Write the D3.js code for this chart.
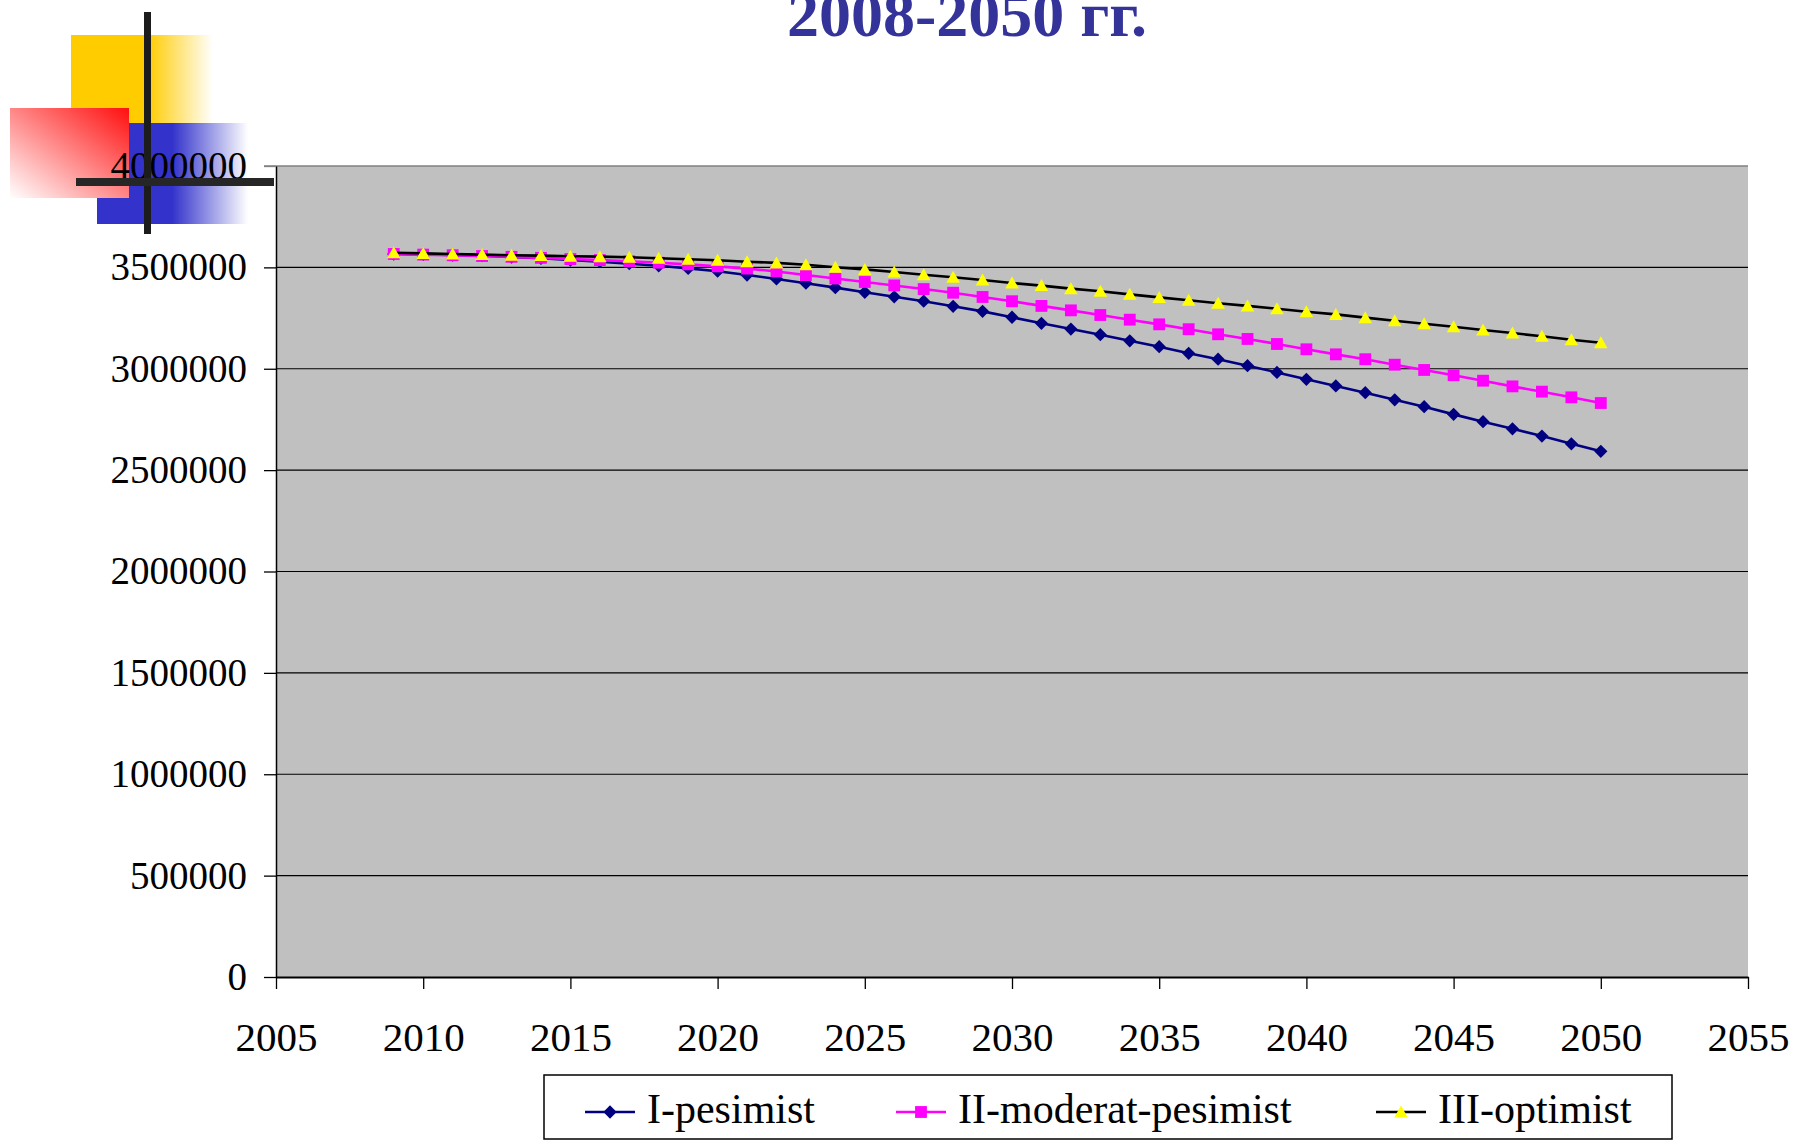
<!DOCTYPE html>
<html>
<head>
<meta charset="utf-8">
<script src="https://cdn.jsdelivr.net/npm/d3@7"></script>
<style>
  body { margin: 0; background: #ffffff; }
  text { font-family: "Liberation Serif", "Times New Roman", serif; }
</style>
</head>
<body>
<div id="chart"></div>
<script>
// values
const years = [2009, 2010, 2011, 2012, 2013, 2014, 2015, 2016, 2017, 2018, 2019, 2020, 2021, 2022,
    2023, 2024, 2025, 2026, 2027, 2028, 2029, 2030, 2031, 2032, 2033, 2034, 2035, 2036,
    2037, 2038, 2039, 2040, 2041, 2042, 2043, 2044, 2045, 2046, 2047, 2048, 2049, 2050];

const pesimist = [3566000, 3564000, 3561000, 3558000, 3551000, 3545000, 3536000, 3528000, 3518000, 3508000,
    3495000, 3481000, 3462000, 3443000, 3422000, 3400000, 3377000, 3355000, 3333000, 3308000,
    3283000, 3254000, 3224000, 3196000, 3168000, 3138000, 3109000, 3076000, 3047000, 3015000,
    2982000, 2948000, 2915000, 2882000, 2847000, 2813000, 2775000, 2739000, 2704000, 2668000,
    2630000, 2593000];

const moderat = [3566000, 3563000, 3560000, 3556000, 3552000, 3547000, 3541000, 3536000, 3530000, 3523000,
    3515000, 3505000, 3494000, 3480000, 3462000, 3445000, 3428000, 3411000, 3393000, 3375000,
    3354000, 3333000, 3310000, 3288000, 3265000, 3242000, 3219000, 3195000, 3170000, 3147000,
    3122000, 3096000, 3071000, 3047000, 3020000, 2994000, 2968000, 2941000, 2913000, 2887000,
    2859000, 2831000];

const optimist = [3572000, 3569000, 3566000, 3563000, 3560000, 3558000, 3555000, 3553000, 3550000, 3545000,
    3540000, 3535000, 3528000, 3522000, 3513000, 3501000, 3490000, 3477000, 3464000, 3451000,
    3438000, 3423000, 3410000, 3395000, 3382000, 3367000, 3352000, 3338000, 3323000, 3310000,
    3296000, 3281000, 3268000, 3252000, 3237000, 3222000, 3207000, 3191000, 3176000, 3160000,
    3143000, 3128000];

const seriesNames = ["I-pesimist", "II-moderat-pesimist", "III-optimist"];
const xTicks = [2005, 2010, 2015, 2020, 2025, 2030, 2035, 2040, 2045, 2050, 2055];
const yTicks = [0, 500000, 1000000, 1500000, 2000000, 2500000, 3000000, 3500000, 4000000];
const title = "2008-2050 гг.";

const width = 1798;
const height = 1144;
const margin = {top: 166, left: 276, right: 50, bottom: 167};

const svg = d3.select("#chart")
    .append("svg")
    .attr("width", width)
    .attr("height", height);

const defs = svg.append("defs");

function hGradient(id, color, start) {
    const g = defs.append("linearGradient").attr("id", id)
        .attr("x1", 0).attr("y1", 0).attr("x2", 1).attr("y2", 0);
    g.append("stop").attr("offset", 0).attr("stop-color", color);
    g.append("stop").attr("offset", start).attr("stop-color", color);
    g.append("stop").attr("offset", 1).attr("stop-color", color).attr("stop-opacity", 0);
}
hGradient("yellowFade", "#ffcc00", 0.54);
hGradient("blueFade", "#3333cc", 0.5);

const redGrad = defs.append("linearGradient").attr("id", "redFade")
    .attr("x1", 1).attr("y1", 0).attr("x2", 0).attr("y2", 1);
redGrad.append("stop").attr("offset", 0).attr("stop-color", "#ff0f0f");
redGrad.append("stop").attr("offset", 1).attr("stop-color", "#ffffff");

const xScale = d3.scaleLinear()
    .domain([2005, 2055])
    .range([margin.left, width - margin.right]);
const yScale = d3.scaleLinear()
    .domain([0, 4000000])
    .range([height - margin.bottom, margin.top]);

// decoration in the top left corner (under the axis labels)
const deco = svg.append("g");
deco.append("rect").attr("x", 71).attr("y", 35).attr("width", 142).attr("height", 89)
    .attr("fill", "url(#yellowFade)");
deco.append("rect").attr("x", 97).attr("y", 123).attr("width", 151).attr("height", 101)
    .attr("fill", "url(#blueFade)");
deco.append("rect").attr("x", 10).attr("y", 108).attr("width", 119).attr("height", 90)
    .attr("fill", "url(#redFade)");

// plot area
svg.append("rect")
    .attr("x", xScale(2005))
    .attr("y", yScale(4000000))
    .attr("width", xScale(2055) - xScale(2005))
    .attr("height", yScale(0) - yScale(4000000))
    .attr("fill", "#c0c0c0");

svg.append("g")
    .selectAll("line")
    .data(yTicks.filter(d => d > 0 && d < 4000000))
    .enter()
    .append("line")
        .attr("x1", xScale(2005))
        .attr("x2", xScale(2055))
        .attr("y1", d => yScale(d))
        .attr("y2", d => yScale(d))
        .attr("stroke", "#000000")
        .attr("stroke-width", 1.2);

svg.append("line")
    .attr("x1", xScale(2005) - 12).attr("x2", xScale(2055))
    .attr("y1", yScale(4000000)).attr("y2", yScale(4000000))
    .attr("stroke", "#808080").attr("stroke-width", 1.5);

const yAxis = svg.append("g")
    .attr("transform", `translate(${margin.left},0)`)
    .call(d3.axisLeft(yScale).tickValues(yTicks).tickSize(12).tickSizeOuter(0)
        .tickPadding(17).tickFormat(d3.format("d")));
yAxis.select(".domain").attr("stroke", "#000000").attr("stroke-width", 1.5);
yAxis.selectAll(".tick line").attr("stroke", d => d == 4000000 ? "#808080" : "#000000").attr("stroke-width", 1.3);
yAxis.selectAll(".tick text")
    .attr("font-family", "Liberation Serif, Times New Roman, serif")
    .attr("font-size", 39)
    .attr("fill", "#000000");

const xAxis = svg.append("g")
    .attr("transform", `translate(0,${height - margin.bottom})`)
    .call(d3.axisBottom(xScale).tickValues(xTicks).tickSize(12).tickSizeOuter(0)
        .tickPadding(33).tickFormat(d3.format("d")));
xAxis.select(".domain").attr("stroke", "#000000").attr("stroke-width", 2.2);
xAxis.selectAll(".tick line").attr("stroke", "#000000").attr("stroke-width", 1.3);
xAxis.selectAll(".tick text")
    .attr("font-family", "Liberation Serif, Times New Roman, serif")
    .attr("font-size", 41)
    .attr("fill", "#000000");

// the black cross drawn over the decoration and the top label
svg.append("rect").attr("x", 144).attr("y", 12).attr("width", 7).attr("height", 222)
    .attr("fill", "#1c1c1c");
svg.append("rect").attr("x", 76).attr("y", 178).attr("width", 198).attr("height", 8)
    .attr("fill", "#262626");

// series
const diamond = d3.symbol().type(d3.symbolSquare).size(88);
const square = d3.symbol().type(d3.symbolSquare).size(140);
const triangle = () => "M0,-6.5L6.8,5.5L-6.8,5.5Z";

const series = [
    {name: seriesNames[0], values: pesimist, line: "#000080", fill: "#000080", shape: diamond, rot: 45},
    {name: seriesNames[1], values: moderat, line: "#ff00ff", fill: "#ff00ff", shape: square, rot: 0},
    {name: seriesNames[2], values: optimist, line: "#000000", fill: "#ffff00", shape: triangle, rot: 0}
];

const line = d3.line()
    .x(d => xScale(d[0]))
    .y(d => yScale(d[1]));

series.forEach(function(s) {
    const pts = years.map((y, i) => [y, s.values[i]]);
    svg.append("path")
        .datum(pts)
        .attr("d", line)
        .attr("fill", "none")
        .attr("stroke", s.line)
        .attr("stroke-width", 2.6);
    svg.append("g")
        .selectAll("path")
        .data(pts)
        .enter()
        .append("path")
            .attr("d", s.shape)
            .attr("transform", d => `translate(${xScale(d[0])},${yScale(d[1])}) rotate(${s.rot})`)
            .attr("fill", s.fill);
});

// title
svg.append("text")
    .attr("x", 967)
    .attr("y", 36)
    .attr("text-anchor", "middle")
    .attr("font-size", 64)
    .attr("font-weight", "bold")
    .attr("fill", "#333399")
    .text(title);

// legend
const legend = svg.append("g");
legend.append("rect")
    .attr("x", 544).attr("y", 1075)
    .attr("width", 1128).attr("height", 64)
    .attr("fill", "#ffffff")
    .attr("stroke", "#000000")
    .attr("stroke-width", 1.5);

const legendX = [585, 896, 1376];
series.forEach(function(s, i) {
    const x0 = legendX[i];
    legend.append("line")
        .attr("x1", x0).attr("x2", x0 + 50)
        .attr("y1", 1112).attr("y2", 1112)
        .attr("stroke", s.line).attr("stroke-width", 2.6);
    legend.append("path")
        .attr("d", s.shape)
        .attr("transform", `translate(${x0 + 25},1112) rotate(${s.rot})`)
        .attr("fill", s.fill);
    legend.append("text")
        .attr("x", x0 + 62)
        .attr("y", 1123)
        .attr("font-size", 42)
        .attr("fill", "#000000")
        .text(s.name);
});
</script>
</body>
</html>
